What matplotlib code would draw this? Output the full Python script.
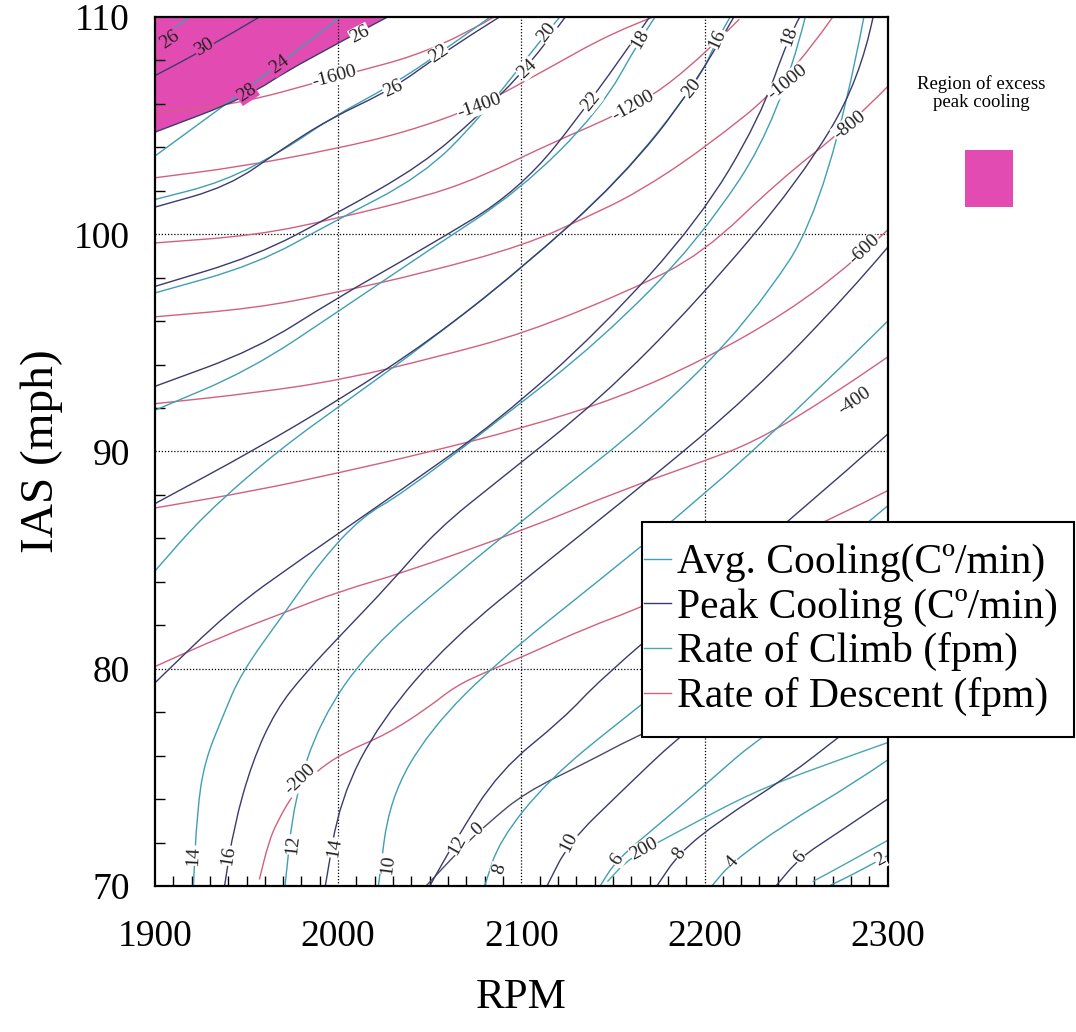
import numpy as np
import matplotlib
matplotlib.use("Agg")
import matplotlib.pyplot as plt
from matplotlib.lines import Line2D
from matplotlib.path import Path
from matplotlib.patches import PathPatch, Rectangle
from matplotlib.ticker import MultipleLocator

plt.rcParams['font.family'] = ['Liberation Serif', 'DejaVu Serif']

# ---------------- data ----------------
# Peak cooling contours (C/min): RPM / IAS points along each line
peak_levels = [30, 28, 26, 24, 22, 20, 18, 16, 14, 12, 10, 8, 6]
peak_rpm = [
    [1900, 1927, 1957],
    [1900, 1950, 1977, 2027],
    [1900, 1940, 1969, 1995, 2030, 2055, 2088],
    [1900, 1955, 1998, 2046, 2077, 2103, 2124],
    [1900, 1955, 1998, 2046, 2099, 2138, 2170],
    [1900, 1955, 2001, 2050, 2099, 2154, 2194, 2216],
    [1900, 1941, 1979, 2034, 2088, 2143, 2197, 2230, 2246, 2252],
    [1938, 1943, 1953, 1966, 1982, 2002, 2027, 2054, 2088, 2143, 2197, 2252, 2285, 2292],
    [1993, 2001, 2023, 2061, 2115, 2170, 2225, 2279, 2300],
    [2050, 2064, 2088, 2123, 2143, 2197, 2252, 2300],
    [2114, 2126, 2154, 2185, 2225, 2300],
    [2174, 2186, 2208, 2245, 2274, 2300],
    [2239, 2252, 2272, 2300],
]
peak_ias = [
    [107.3, 108.5, 110.0],
    [104.7, 106.3, 107.8, 110.0],
    [101.25, 102.2, 103.9, 105.3, 106.7, 108.25, 110.0],
    [97.6, 99.0, 100.9, 103.2, 105.5, 107.6, 110.0],
    [93.0, 94.7, 97.0, 99.3, 102.0, 106.1, 110.0],
    [87.6, 90.1, 92.4, 95.1, 98.35, 102.5, 106.7, 110.0],
    [79.35, 82.7, 85.0, 88.2, 91.45, 95.6, 100.65, 105.3, 109.1, 110.0],
    [70.0, 72.7, 75.7, 78.1, 79.8, 81.6, 83.8, 86.4, 88.7, 92.4, 97.0, 102.5, 107.1, 110.0],
    [70.0, 74.0, 77.6, 81.3, 85.0, 88.7, 92.6, 97.3, 99.4],
    [70.0, 72.1, 75.3, 77.7, 79.5, 83.4, 87.2, 90.8],
    [70.0, 72.0, 74.3, 76.8, 79.5, 84.1],
    [70.0, 71.5, 73.0, 75.0, 76.9, 78.6],
    [70.0, 71.3, 72.4, 74.0],
]

# Average cooling contours (C/min)
avg_levels = [26, 24, 22, 20, 18, 16, 14, 12, 10, 8, 6, 4, 2]
avg_rpm = [
    [1900, 1919],
    [1900, 1968, 2001],
    [1900, 1937, 1971, 1995, 2030, 2055, 2083],
    [1900, 1955, 1998, 2046, 2077, 2114, 2121],
    [1900, 1952, 2001, 2050, 2099, 2143, 2165, 2173],
    [1900, 1927, 1968, 2006, 2050, 2099, 2154, 2197, 2207, 2214],
    [1921, 1923, 1927, 1937, 1947, 1971, 1991, 2013, 2034, 2088, 2143, 2197, 2241, 2255],
    [1971, 1976, 1990, 2017, 2061, 2115, 2170, 2225, 2268, 2287],
    [2022, 2028, 2050, 2088, 2143, 2197, 2252, 2300],
    [2080, 2088, 2115, 2154, 2197, 2252, 2300],
    [2143, 2152, 2176, 2201, 2232, 2300],
    [2204, 2215, 2245, 2281, 2300],
    [2268, 2285, 2300],
]
avg_ias = [
    [108.9, 110.0],
    [103.6, 107.8, 110.0],
    [101.6, 102.4, 103.9, 105.3, 106.9, 108.3, 110.0],
    [97.3, 98.6, 100.6, 102.7, 105.3, 109.3, 110.0],
    [91.9, 93.75, 96.5, 99.3, 102.0, 105.7, 109.0, 110.0],
    [84.5, 87.1, 90.1, 92.4, 95.1, 98.35, 102.5, 107.1, 109.0, 110.0],
    [70.0, 73.4, 75.7, 77.8, 79.8, 82.6, 85.0, 87.0, 88.0, 91.45, 95.1, 99.7, 105.3, 110.0],
    [70.0, 74.0, 77.6, 80.9, 84.1, 87.8, 91.45, 96.05, 101.6, 110.0],
    [70.0, 74.0, 77.2, 80.4, 84.1, 87.8, 92.0, 96.0],
    [70.0, 72.1, 74.9, 77.6, 80.4, 84.1, 87.5],
    [70.0, 71.2, 72.9, 74.7, 77.0, 80.9],
    [70.0, 71.1, 72.9, 74.7, 75.8],
    [70.0, 70.7, 71.4],
]

# Rate of descent contours (fpm)
rod_levels = [-1600, -1400, -1200, -1000, -800, -600, -400, -200]
rod_rpm = [
    [1900, 1946, 1997, 2055, 2085],
    [1900, 1946, 1997, 2037, 2077, 2114, 2150, 2172],
    [1900, 1955, 1998, 2046, 2077, 2119, 2150, 2186, 2219],
    [1900, 1955, 1998, 2046, 2102, 2136, 2163, 2199, 2245, 2270],
    [1900, 1955, 2002, 2054, 2102, 2159, 2199, 2241, 2279, 2300],
    [1900, 1955, 2002, 2046, 2102, 2154, 2199, 2245, 2281, 2300],
    [1900, 1937, 1971, 2002, 2035, 2102, 2154, 2201, 2226, 2263, 2300],
    [1957, 1962, 1967, 1976, 1987, 2002, 2027, 2049, 2064, 2082, 2102,
     2136, 2165, 2220, 2272, 2300],
]
rod_ias = [
    [105.6, 106.0, 107.2, 108.5, 110.0],
    [102.6, 103.1, 103.9, 104.7, 105.9, 107.6, 109.3, 110.0],
    [99.6, 99.95, 100.7, 101.7, 102.6, 104.3, 105.4, 107.1, 109.9],
    [96.2, 96.6, 97.3, 98.2, 99.5, 100.8, 101.9, 103.9, 107.0, 110.0],
    [92.2, 92.7, 93.3, 94.35, 95.45, 97.4, 99.1, 102.5, 105.0, 106.8],
    [87.4, 88.2, 89.05, 89.9, 91.1, 92.5, 94.2, 96.4, 98.7, 100.2],
    [80.1, 81.5, 82.6, 83.6, 84.4, 86.4, 88.2, 89.6, 90.4, 92.2, 94.35],
    [70.3, 72.0, 73.0, 74.3, 75.2, 76.1, 77.0, 78.2, 79.2, 79.9, 80.6,
     81.9, 82.8, 85.0, 87.0, 88.2],
]

# Rate of climb contours (fpm)
roc_levels = [0, 200, 400]
roc_rpm = [
    [2048, 2068, 2082, 2102, 2136, 2165, 2230],
    [2147, 2159, 2190, 2226, 2263, 2300],
    [2259, 2281, 2300],
]
roc_ias = [
    [70.0, 71.8, 72.9, 74.3, 75.7, 77.0, 79.5],
    [70.2, 71.3, 72.7, 74.3, 75.5, 76.6],
    [70.2, 71.2, 72.1],
]

# contour label positions (RPM, IAS)
peak_lab = {30: (1927, 108.6), 28: (1950, 106.5), 26: (2030, 106.7), 24: (2103, 107.6),
            22: (2138, 106.1), 20: (2193, 106.7), 18: (2246, 109.1), 16: (1940, 71.4),
            14: (1998, 71.75), 12: (2065, 71.9), 10: (2126, 72.0), 8: (2186, 71.5),
            6: (2252, 71.3)}
avg_lab = {26: (1908, 108.95), 24: (1968, 107.8), 22: (2055, 108.3), 20: (2114, 109.3),
           18: (2165, 109.0), 16: (2207, 109.0), 14: (1921, 71.4), 12: (1975, 71.9),
           10: (2027, 71.0), 8: (2088, 70.8), 6: (2152, 71.2), 4: (2215, 71.1),
           2: (2296, 71.2)}
rod_lab = {-1600: (1998, 107.25), -1400: (2077, 105.9), -1200: (2161, 105.9),
           -1000: (2245, 107.0), -800: (2279, 105.0), -600: (2287, 99.3),
           -400: (2282, 92.3), -200: (1979, 74.9)}
roc_lab = {0: (2076, 72.6), 200: (2167, 71.7)}
extra_lab = ('26', (2012, 109.2))   # second label on the region boundary

legend_labels = ['Avg. Cooling(Cº/min)', 'Peak Cooling (Cº/min)',
                 'Rate of Climb (fpm)', 'Rate of Descent (fpm)']

# ---------------- style ----------------
C_AVG = '#3f9fb4'
C_PEAK = '#3b3b6d'
C_ROC = '#4aa6b0'
C_ROC0 = '#4a4a62'
C_ROD = '#d2607e'
C_FILL = '#e24cb2'

fig = plt.figure(figsize=(10.76, 10.32), dpi=100)
ax = fig.add_axes([0.144, 0.1415, 0.681, 0.842])
ax.set_xlim(1900, 2300)
ax.set_ylim(70, 110)


def smooth_path(xs, ys, close_top=False):
    """Quadratic-Bezier path through the read points (rendered by matplotlib)."""
    P = np.column_stack([xs, ys]).astype(float)
    verts = [P[0]]
    codes = [Path.MOVETO]
    if len(P) == 2:
        verts.append(P[1]); codes.append(Path.LINETO)
    else:
        verts.append((P[0] + P[1]) / 2); codes.append(Path.LINETO)
        for i in range(1, len(P) - 1):
            mid = (P[i] + P[i + 1]) / 2 if i < len(P) - 2 else P[i + 1]
            verts += [P[i], mid]
            codes += [Path.CURVE3, Path.CURVE3]
    if close_top:
        verts += [(P[0][0], 110.0), P[0]]
        codes += [Path.LINETO, Path.CLOSEPOLY]
    return Path(verts, codes)


def draw_line(xs, ys, color, z):
    ax.add_patch(PathPatch(smooth_path(xs, ys), fc='none', ec=color, lw=1.0, zorder=z))


# region of excess peak cooling (above the 28 peak line)
ax.add_patch(PathPatch(smooth_path(peak_rpm[1], peak_ias[1], close_top=True),
                       fc=C_FILL, ec='none', zorder=1))

for v in (2000, 2100, 2200):
    ax.axvline(v, color='black', lw=0.9, ls=(0, (1, 1.5)), zorder=1.5)
for v in (80, 90, 100):
    ax.axhline(v, color='black', lw=0.9, ls=(0, (1, 1.5)), zorder=1.5)

for xs, ys in zip(rod_rpm, rod_ias):
    draw_line(xs, ys, C_ROD, 2)
for lv, xs, ys in zip(roc_levels, roc_rpm, roc_ias):
    draw_line(xs, ys, C_ROC0 if lv == 0 else C_ROC, 2)
for xs, ys in zip(avg_rpm, avg_ias):
    draw_line(xs, ys, C_AVG, 2.2)
for xs, ys in zip(peak_rpm, peak_ias):
    draw_line(xs, ys, C_PEAK, 2.4)

fig.canvas.draw()


def put_label(xs, ys, text, pos):
    pts = ax.transData.transform(np.column_stack([xs, ys]))
    p = ax.transData.transform(pos)
    best, ang = 1e18, 0.0
    for i in range(len(pts) - 1):
        a, b = pts[i], pts[i + 1]
        d = b - a
        t = np.clip(np.dot(p - a, d) / max(np.dot(d, d), 1e-9), 0, 1)
        dist = np.linalg.norm(a + t * d - p)
        if dist < best:
            best = dist
            ang = np.degrees(np.arctan2(d[1], d[0]))
    if ang > 90:
        ang -= 180
    if ang < -90:
        ang += 180
    inside = (pos[0] < 2027) and (np.interp(pos[0], peak_rpm[1], peak_ias[1]) < pos[1])
    bg = C_FILL if inside else 'white'
    ax.text(pos[0], pos[1], text, rotation=ang, rotation_mode='anchor',
            ha='center', va='center', fontsize=14, color='#222222', zorder=5,
            bbox=dict(boxstyle='square,pad=0.02', fc=bg, ec='none'))


for lv, xs, ys in zip(peak_levels, peak_rpm, peak_ias):
    if lv in peak_lab:
        put_label(xs, ys, str(lv), peak_lab[lv])
for lv, xs, ys in zip(avg_levels, avg_rpm, avg_ias):
    if lv in avg_lab:
        put_label(xs, ys, str(lv), avg_lab[lv])
for lv, xs, ys in zip(rod_levels, rod_rpm, rod_ias):
    put_label(xs, ys, str(lv), rod_lab[lv])
for lv, xs, ys in zip(roc_levels, roc_rpm, roc_ias):
    if lv in roc_lab:
        put_label(xs, ys, str(lv), roc_lab[lv])
put_label(peak_rpm[1], peak_ias[1], extra_lab[0], extra_lab[1])

# axes styling
ax.set_xticks([1900, 2000, 2100, 2200, 2300])
ax.set_yticks([70, 80, 90, 100, 110])
ax.xaxis.set_minor_locator(MultipleLocator(10))
ax.yaxis.set_minor_locator(MultipleLocator(2))
ax.tick_params(which='both', direction='in', top=False, right=False)
ax.tick_params(which='major', length=0, labelsize=27)
ax.tick_params(axis='x', which='major', pad=24)
ax.tick_params(axis='y', which='major', pad=18)
ax.tick_params(which='minor', length=7, width=1)
for s in ax.spines.values():
    s.set_linewidth(1.6)
ax.set_xlabel('RPM', fontsize=31, labelpad=18)
ax.set_ylabel('IAS (mph)', fontsize=34, labelpad=8)

# legend: frame drawn as a box, entries without frame
fig.add_artist(Rectangle((642 / 1076, 1 - 737 / 1032), 432 / 1076, 215 / 1032,
                         transform=fig.transFigure, fc='white', ec='black', lw=1.5,
                         zorder=4))
handles = [Line2D([], [], color=c, lw=1.0) for c in (C_AVG, C_PEAK, C_ROC, C_ROD)]
leg = fig.legend(handles, legend_labels, loc='center left',
                 bbox_to_anchor=(644 / 1076, 1 - 630 / 1032), bbox_transform=fig.transFigure,
                 fontsize=30, handlelength=0.65, handletextpad=0.15,
                 borderpad=0, labelspacing=0.14, borderaxespad=0, frameon=False)
leg.set_zorder(5)

# excess region key
fig.text(0.912, 0.910, 'Region of excess\npeak cooling', ha='center', va='center',
         fontsize=13.5, linespacing=1.05)
fig.add_artist(Rectangle((965 / 1076, 1 - 207 / 1032), 48 / 1076, 57 / 1032,
                         transform=fig.transFigure, color=C_FILL, lw=0))

fig.savefig('out.png', dpi=100)
